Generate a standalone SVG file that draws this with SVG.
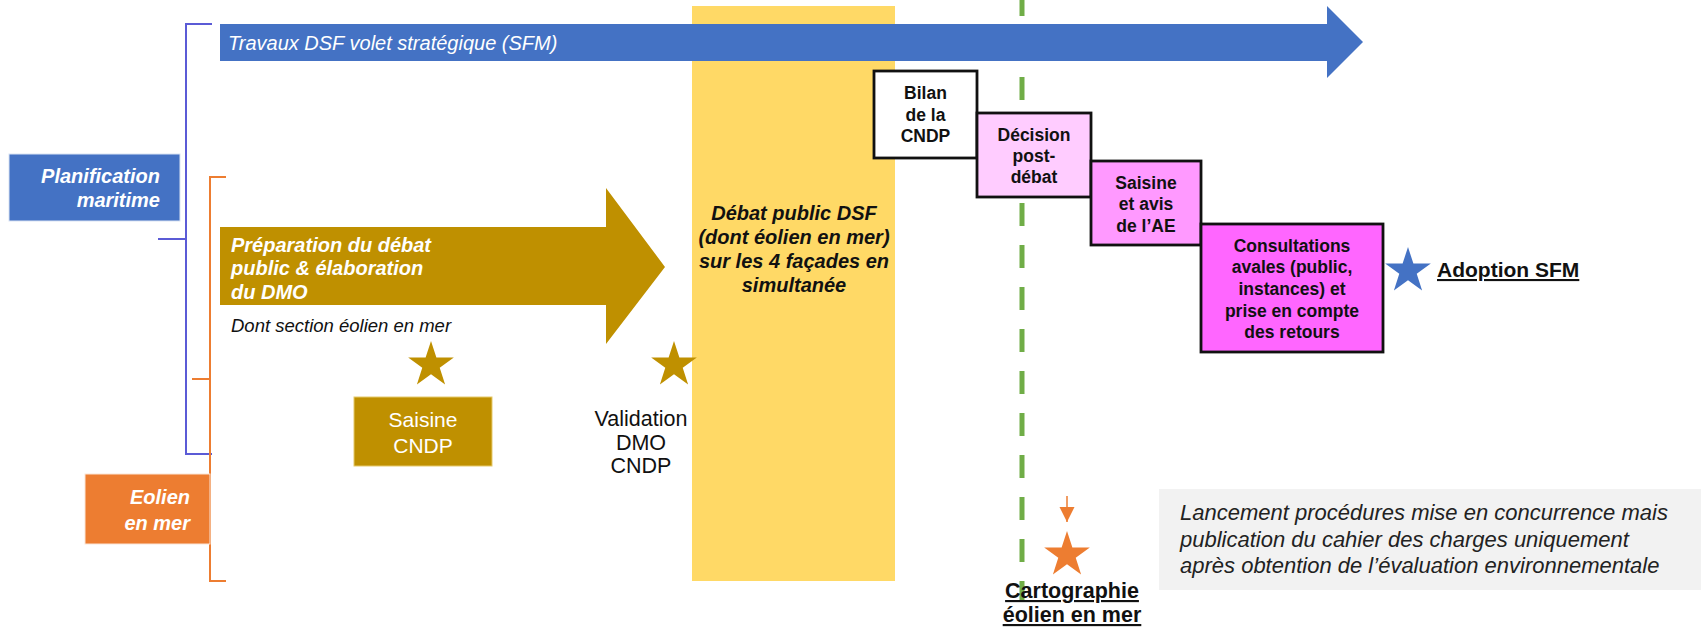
<svg xmlns="http://www.w3.org/2000/svg" width="1701" height="628" viewBox="0 0 1701 628">
<style>
text{font-family:"Liberation Sans",Arial,sans-serif;}
.wbi{fill:#fff;font-weight:bold;font-style:italic;font-size:20px;}
.bb{fill:#111;font-weight:bold;font-size:17.5px;text-anchor:middle;}
.step{stroke:#111;stroke-width:2.8;}
.br{fill:none;stroke-width:2;}
.ul{text-decoration:underline;font-weight:bold;fill:#111;}
</style>
<defs>
<path id="star" d="M0,-24 L5.39,-7.42 L22.83,-7.42 L8.72,2.83 L14.11,19.42 L0,9.17 L-14.11,19.42 L-8.72,2.83 L-22.83,-7.42 L-5.39,-7.42 Z"/>
<marker id="oarr" viewBox="0 0 10 10" refX="10" refY="5" markerWidth="15" markerHeight="16" markerUnits="userSpaceOnUse" orient="auto">
<path d="M0,0 L10,5 L0,10 Z" fill="#ED7D31"/>
</marker>
</defs>

<g id="debat-public">
<rect x="692" y="6" width="203" height="575" fill="#FFD966"/>
<text class="wbi" style="fill:#111" text-anchor="middle"><tspan x="794" y="220">Débat public DSF</tspan><tspan x="794" y="244">(dont éolien en mer)</tspan><tspan x="794" y="268">sur les 4 façades en</tspan><tspan x="794" y="292">simultanée</tspan></text>
</g>

<g id="connectors">
<path class="br" stroke="#5B5BD6" d="M212,24 H186 V454 H212 M186,239 H158"/>
<path class="br" stroke="#ED7D31" d="M226,177 H210 V581 H226 M210,379 H192"/>
<line x1="1022" y1="-7" x2="1022" y2="601" stroke="#70AD47" stroke-width="5" stroke-dasharray="23 19"/>
<line x1="1067" y1="496" x2="1067" y2="522" stroke="#ED7D31" stroke-width="1.5" marker-end="url(#oarr)"/>
</g>

<g id="travaux-dsf">
<polygon points="220,24 1327,24 1327,6 1363,42 1327,78 1327,61 220,61" fill="#4472C4"/>
<text x="228" y="50" fill="#fff" font-style="italic" font-size="20">Travaux DSF volet stratégique (SFM)</text>
</g>

<g id="planification-maritime">
<rect x="9" y="154" width="171" height="67" fill="#4472C4" stroke="#DAE3F3" stroke-width="1"/>
<text class="wbi" text-anchor="end"><tspan x="160" y="183">Planification</tspan><tspan x="160" y="207">maritime</tspan></text>
</g>

<g id="eolien-en-mer">
<rect x="85" y="474" width="125" height="70" fill="#ED7D31" stroke="#FBE5D6" stroke-width="1"/>
<text class="wbi" text-anchor="end"><tspan x="190" y="504">Eolien</tspan><tspan x="190" y="530">en mer</tspan></text>
</g>

<g id="preparation-debat">
<polygon points="220,227 606,227 606,188 665,267 606,344 606,305 220,305" fill="#BF9000"/>
<text class="wbi"><tspan x="231" y="252">Préparation du débat</tspan><tspan x="231" y="275">public &amp; élaboration</tspan><tspan x="231" y="299">du DMO</tspan></text>
<text x="231" y="332" fill="#111" font-style="italic" font-size="18.5">Dont section éolien en mer</text>
</g>

<g id="saisine-cndp">
<use href="#star" x="431" y="365" fill="#BF9000"/>
<rect x="354" y="397" width="138" height="69" fill="#BF9000" stroke="#E6C96B" stroke-width="1"/>
<text fill="#fff" font-size="21" text-anchor="middle"><tspan x="423" y="427">Saisine</tspan><tspan x="423" y="453">CNDP</tspan></text>
</g>

<g id="validation-dmo">
<use href="#star" x="674" y="365" fill="#BF9000"/>
<text fill="#111" font-size="21.5" text-anchor="middle"><tspan x="641" y="426">Validation</tspan><tspan x="641" y="450">DMO</tspan><tspan x="641" y="473">CNDP</tspan></text>
</g>

<g id="bilan-cndp">
<rect class="step" x="874" y="71" width="103" height="87" fill="#fff"/>
<text class="bb"><tspan x="925.5" y="99">Bilan</tspan><tspan x="925.5" y="121">de la</tspan><tspan x="925.5" y="142">CNDP</tspan></text>
</g>

<g id="decision-post-debat">
<rect class="step" x="977" y="113" width="114" height="84" fill="#FFCCFF"/>
<text class="bb"><tspan x="1034" y="141">Décision</tspan><tspan x="1034" y="162">post-</tspan><tspan x="1034" y="183">débat</tspan></text>
</g>

<g id="saisine-ae">
<rect class="step" x="1091" y="161" width="110" height="84" fill="#FF99FF"/>
<text class="bb"><tspan x="1146" y="189">Saisine</tspan><tspan x="1146" y="210">et avis</tspan><tspan x="1146" y="232">de l’AE</tspan></text>
</g>

<g id="consultations-avales">
<rect class="step" x="1201" y="224" width="182" height="128" fill="#FF66FF"/>
<text class="bb"><tspan x="1292" y="252">Consultations</tspan><tspan x="1292" y="273">avales (public,</tspan><tspan x="1292" y="295">instances) et</tspan><tspan x="1292" y="317">prise en compte</tspan><tspan x="1292" y="338">des retours</tspan></text>
</g>

<g id="adoption-sfm">
<use href="#star" x="1408" y="271" fill="#4472C4"/>
<text class="ul" x="1437" y="277" font-size="21">Adoption SFM</text>
</g>

<g id="cartographie">
<use href="#star" x="1067" y="555" fill="#ED7D31"/>
<text class="ul" font-size="21.5" text-anchor="middle"><tspan x="1072" y="598">Cartographie</tspan><tspan x="1072" y="622">éolien en mer</tspan></text>
</g>

<g id="note-lancement">
<rect x="1159" y="489" width="542" height="101" fill="#F2F2F2"/>
<text fill="#222" font-style="italic" font-size="22"><tspan x="1180" y="520">Lancement procédures mise en concurrence mais</tspan><tspan x="1180" y="547">publication du cahier des charges uniquement</tspan><tspan x="1180" y="573">après obtention de l’évaluation environnementale</tspan></text>
</g>
</svg>
